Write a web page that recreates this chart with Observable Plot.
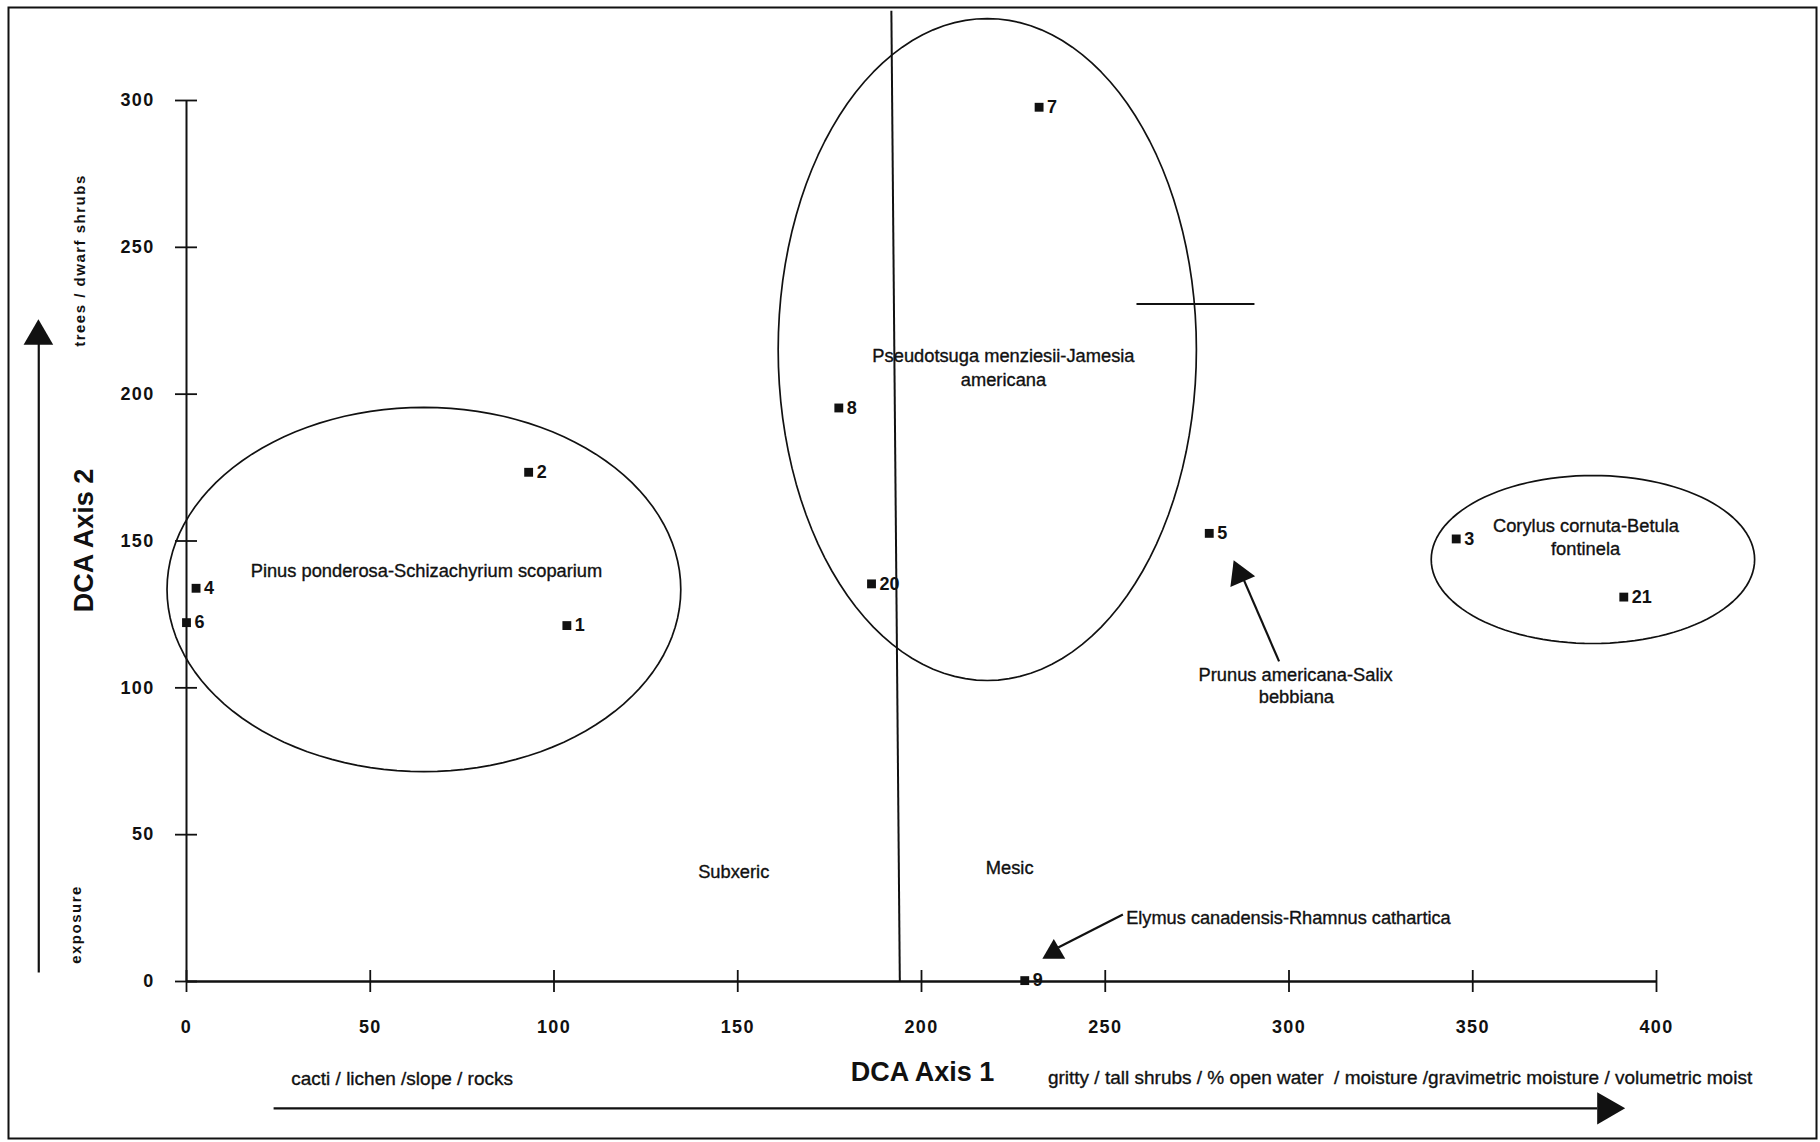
<!DOCTYPE html>
<html><head><meta charset="utf-8">
<script src="https://cdn.jsdelivr.net/npm/d3@7"></script>
<script src="https://cdn.jsdelivr.net/npm/@observablehq/plot@0.6"></script>
<style>
body{margin:0;background:#fff;}
g.spaced text{letter-spacing:1.5px;}
g.ticklab text{letter-spacing:1.3px;}
</style></head><body><div id="chart"></div>
<script>
// DCA site scores
const sites = ["1","2","3","4","5","6","7","8","9","20","21"];
const axis1 = [103.5, 93.1, 345.5, 2.6, 278.3, 0, 232, 177.5, 228.1, 186.4, 391.1];
const axis2 = [121.2, 173.4, 150.7, 133.9, 152.6, 122.2, 297.7, 195.3, 0.3, 135.4, 130.9];

const xTicks = [0, 50, 100, 150, 200, 250, 300, 350, 400];
const yTicks = [0, 50, 100, 150, 200, 250, 300];

// community ellipses (centre and radii in DCA units)
const community = ["Pinus ponderosa-Schizachyrium scoparium", "Pseudotsuga menziesii-Jamesia americana", "Corylus cornuta-Betula fontinela"];
const ellCx = [64.6, 217.9, 382.7];
const ellCy = [133.5, 215.2, 143.7];
const ellRx = [69.9, 56.9, 44.0];
const ellRy = [62.0, 112.7, 28.6];

// annotations inside the plot
const noteText = ["Pinus ponderosa-Schizachyrium scoparium", "Pseudotsuga menziesii-Jamesia", "americana",
  "Corylus cornuta-Betula", "fontinela", "Prunus americana-Salix", "bebbiana", "Subxeric", "Mesic"];
const noteX = [65.3, 222.3, 222.3, 380.8, 380.7, 301.8, 302.0, 148.9, 224.0];
const noteY = [139.9, 213.1, 204.9, 154.9, 147.1, 104.2, 96.8, 37.1, 38.5];
const elymusText = ["Elymus canadensis-Rhamnus cathartica"];
const elymusX = [255.7];
const elymusY = [21.4];

// gradient labels along the axes
const bottomText = ["cacti / lichen /slope / rocks", "gritty / tall shrubs / % open water  / moisture /gravimetric moisture / volumetric moist"];
const bottomX = [28.5, 234.4];
const bottomY = [-33, -32.7];
const sideText = ["trees / dwarf shrubs", "exposure"];
const sideX = [-28.9, -30.0];
const sideY = [245.5, 19.4];

// arrows: shafts and heads
const shaftX1 = [-40.2, 23.7, 297.3, 254.8];
const shaftY1 = [3.1, -43.2, 109.0, 22.8];
const shaftX2 = [-40.2, 383.9, 287.2, 237.2];
const shaftY2 = [217.2, -43.2, 138.2, 11.6];
const headX = [-40.3, 386.4, 286.6, 236.0];
const headY = [219.7, -43.2, 138.6, 10.0];
const headRot = [0, 90, -23, 0];
const headR = [11, 12, 10, 8.5];

// Subxeric / Mesic divisions
const divX1 = [191.8, 258.5];
const divY1 = [330.6, 230.7];
const divX2 = [194.1, 290.6];
const divY2 = [0, 230.7];

const pts = sites.map((s, i) => ({site: s, x: axis1[i], y: axis2[i]}));
const ellPts = community.flatMap((c, k) => d3.range(0, 121).map(j => {
  const t = j / 120 * 2 * Math.PI;
  return {c, x: ellCx[k] + ellRx[k] * Math.cos(t), y: ellCy[k] + ellRy[k] * Math.sin(t)};
}));
const notes = noteText.map((t, i) => ({t, x: noteX[i], y: noteY[i]}));
const shafts = shaftX1.map((x1, i) => ({x1, y1: shaftY1[i], x2: shaftX2[i], y2: shaftY2[i]}));
const heads = headX.map((x, i) => ({x, y: headY[i], r: headR[i], rot: headRot[i]}));
const divs = divX1.map((x1, i) => ({x1, y1: divY1[i], x2: divX2[i], y2: divY2[i]}));

const font = "'Liberation Sans', Arial, Helvetica, sans-serif";
const ink = "#111";
const thin = {stroke: ink, strokeWidth: 0.35};

const chart = Plot.plot({
  width: 1820,
  height: 1142,
  marginLeft: 186,
  marginRight: 164,
  marginTop: 100,
  marginBottom: 161,
  style: {fontFamily: font, color: ink, background: "#fff"},
  x: {domain: [0, 400], axis: null},
  y: {domain: [0, 300], axis: null},
  r: {type: "identity"},
  marks: [
    Plot.frame({stroke: ink, strokeWidth: 2, insetLeft: -178, insetTop: -93, insetRight: -160, insetBottom: -157}),
    Plot.ruleX([0], {y1: 0, y2: 300, stroke: ink, strokeWidth: 2}),
    Plot.ruleY([0], {x1: 0, x2: 400, stroke: ink, strokeWidth: 2.5}),
    Plot.ruleX(xTicks, {x: d => d, y1: 0, y2: 0, insetTop: -11, insetBottom: -11, stroke: ink, strokeWidth: 1.8}),
    Plot.ruleY(yTicks, {y: d => d, x1: 0, x2: 0, insetLeft: -11, insetRight: -11, stroke: ink, strokeWidth: 1.8}),
    Plot.axisX({ticks: xTicks, tickSize: 0, tickPadding: 39, fontSize: 18, fontWeight: "bold", label: null, tickFormat: d => String(d), className: "ticklab"}),
    Plot.axisY({ticks: yTicks, tickSize: 0, tickPadding: 32, fontSize: 18, fontWeight: "bold", label: null, tickFormat: d => String(d), className: "ticklab"}),
    Plot.link(divs, {x1: "x1", y1: "y1", x2: "x2", y2: "y2", stroke: ink, strokeWidth: 2}),
    Plot.line(ellPts, {x: "x", y: "y", z: "c", stroke: ink, strokeWidth: 1.7, curve: "linear"}),
    Plot.dot(pts, {x: "x", y: "y", symbol: "square", r: 5, fill: ink, stroke: "none"}),
    Plot.text(pts, {x: "x", y: "y", text: "site", textAnchor: "start", dx: 8, fontSize: 18, fontWeight: "bold", fill: ink}),
    Plot.text(notes, {x: "x", y: "y", text: "t", fontSize: 18.3, fill: ink, ...thin}),
    Plot.text(elymusText, {x: (d, i) => elymusX[i], y: (d, i) => elymusY[i], text: d => d, textAnchor: "start", fontSize: 18.2, fill: ink, ...thin}),
    Plot.text(bottomText, {x: (d, i) => bottomX[i], y: (d, i) => bottomY[i], text: d => d, textAnchor: "start", fontSize: 19, fill: ink, ...thin}),
    Plot.text(["DCA Axis 1"], {x: 200.3, y: -31, text: d => d, fontSize: 27, fontWeight: "bold", fill: ink}),
    Plot.text(["DCA Axis 2"], {x: -27.8, y: 150.2, text: d => d, rotate: -90, fontSize: 27, fontWeight: "bold", fill: ink}),
    Plot.text(sideText, {x: (d, i) => sideX[i], y: (d, i) => sideY[i], text: d => d, rotate: -90, fontSize: 15, fontWeight: "bold", fill: ink, className: "spaced"}),
    Plot.link(shafts, {x1: "x1", y1: "y1", x2: "x2", y2: "y2", stroke: ink, strokeWidth: 2.2}),
    Plot.dot(heads, {x: "x", y: "y", r: "r", rotate: "rot", symbol: "triangle", fill: ink, stroke: "none"})
  ]
});
document.getElementById("chart").appendChild(chart);
</script></body></html>
